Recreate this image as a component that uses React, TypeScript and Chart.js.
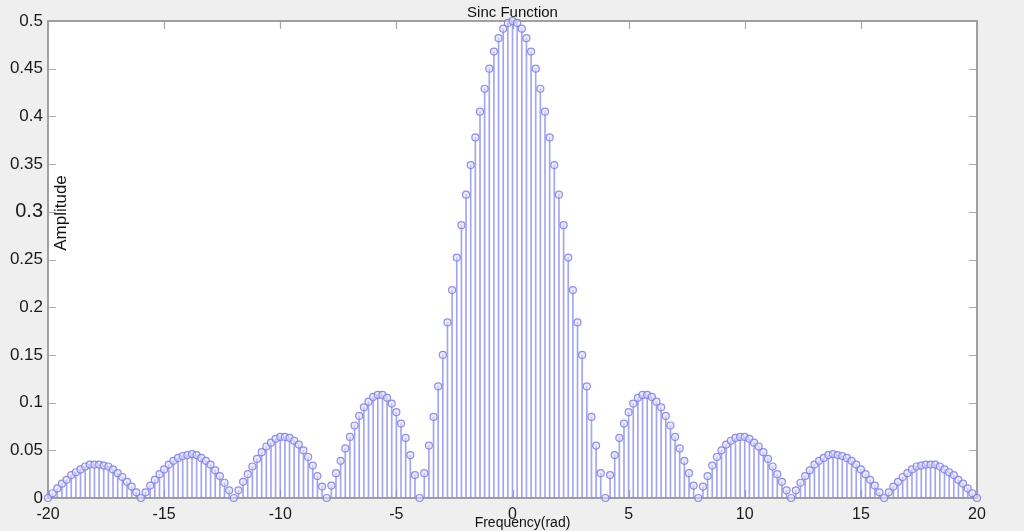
import React, { useEffect, useRef } from "react";
import { Chart, registerables } from "chart.js";

Chart.register(...registerables);

const chartTitle = "Sinc Function";
const xAxisTitle = "Frequency(rad)";
const yAxisTitle = "Amplitude";

const xTickValues = [-20, -15, -10, -5, 0, 5, 10, 15, 20];

const frequency = [
  -20, -19.8, -19.6, -19.4, -19.2, -19, -18.8, -18.6, -18.4, -18.2,
  -18, -17.8, -17.6, -17.4, -17.2, -17, -16.8, -16.6, -16.4, -16.2,
  -16, -15.8, -15.6, -15.4, -15.2, -15, -14.8, -14.6, -14.4, -14.2,
  -14, -13.8, -13.6, -13.4, -13.2, -13, -12.8, -12.6, -12.4, -12.2,
  -12, -11.8, -11.6, -11.4, -11.2, -11, -10.8, -10.6, -10.4, -10.2,
  -10, -9.8, -9.6, -9.4, -9.2, -9, -8.8, -8.6, -8.4, -8.2,
  -8, -7.8, -7.6, -7.4, -7.2, -7, -6.8, -6.6, -6.4, -6.2,
  -6, -5.8, -5.6, -5.4, -5.2, -5, -4.8, -4.6, -4.4, -4.2,
  -4, -3.8, -3.6, -3.4, -3.2, -3, -2.8, -2.6, -2.4, -2.2,
  -2, -1.8, -1.6, -1.4, -1.2, -1, -0.8, -0.6, -0.4, -0.2,
  0,
  0.2, 0.4, 0.6, 0.8, 1, 1.2, 1.4, 1.6, 1.8, 2,
  2.2, 2.4, 2.6, 2.8, 3, 3.2, 3.4, 3.6, 3.8, 4,
  4.2, 4.4, 4.6, 4.8, 5, 5.2, 5.4, 5.6, 5.8, 6,
  6.2, 6.4, 6.6, 6.8, 7, 7.2, 7.4, 7.6, 7.8, 8,
  8.2, 8.4, 8.6, 8.8, 9, 9.2, 9.4, 9.6, 9.8, 10,
  10.2, 10.4, 10.6, 10.8, 11, 11.2, 11.4, 11.6, 11.8, 12,
  12.2, 12.4, 12.6, 12.8, 13, 13.2, 13.4, 13.6, 13.8, 14,
  14.2, 14.4, 14.6, 14.8, 15, 15.2, 15.4, 15.6, 15.8, 16,
  16.2, 16.4, 16.6, 16.8, 17, 17.2, 17.4, 17.6, 17.8, 18,
  18.2, 18.4, 18.6, 18.8, 19, 19.2, 19.4, 19.6, 19.8, 20,
];

const amplitude = [
  0, 0.005, 0.010, 0.015, 0.019, 0.024, 0.027, 0.030, 0.033, 0.035,
  0.035, 0.035, 0.034, 0.033, 0.030, 0.026, 0.022, 0.017, 0.012, 0.006,
  0, 0.006, 0.013, 0.019, 0.025, 0.030, 0.035, 0.039, 0.042, 0.044,
  0.045, 0.046, 0.045, 0.042, 0.039, 0.035, 0.029, 0.023, 0.016, 0.008,
  0, 0.008, 0.017, 0.025, 0.033, 0.041, 0.048, 0.054, 0.058, 0.062,
  0.064, 0.064, 0.063, 0.060, 0.056, 0.050, 0.043, 0.034, 0.023, 0.012,
  0, 0.013, 0.026, 0.039, 0.052, 0.064, 0.076, 0.086, 0.095, 0.101,
  0.106, 0.108, 0.108, 0.105, 0.099, 0.090, 0.078, 0.063, 0.045, 0.024,
  0, 0.026, 0.055, 0.085, 0.117, 0.150, 0.184, 0.218, 0.252, 0.286,
  0.318, 0.349, 0.378, 0.405, 0.429, 0.450, 0.468, 0.482, 0.492, 0.498,
  0.5,
  0.498, 0.492, 0.482, 0.468, 0.450, 0.429, 0.405, 0.378, 0.349, 0.318,
  0.286, 0.252, 0.218, 0.184, 0.150, 0.117, 0.085, 0.055, 0.026, 0,
  0.024, 0.045, 0.063, 0.078, 0.090, 0.099, 0.105, 0.108, 0.108, 0.106,
  0.101, 0.095, 0.086, 0.076, 0.064, 0.052, 0.039, 0.026, 0.013, 0,
  0.012, 0.023, 0.034, 0.043, 0.050, 0.056, 0.060, 0.063, 0.064, 0.064,
  0.062, 0.058, 0.054, 0.048, 0.041, 0.033, 0.025, 0.017, 0.008, 0,
  0.008, 0.016, 0.023, 0.029, 0.035, 0.039, 0.042, 0.045, 0.046, 0.045,
  0.044, 0.042, 0.039, 0.035, 0.030, 0.025, 0.019, 0.013, 0.006, 0,
  0.006, 0.012, 0.017, 0.022, 0.026, 0.030, 0.033, 0.034, 0.035, 0.035,
  0.035, 0.033, 0.030, 0.027, 0.024, 0.019, 0.015, 0.010, 0.005, 0,
];

const FONT = "'Liberation Sans', Arial, Helvetica, sans-serif";

const boxPlugin = {
  id: "matlabBox",
  beforeDraw(chart: any) {
    const { ctx, chartArea: a } = chart;
    ctx.save();
    ctx.fillStyle = "#ffffff";
    ctx.fillRect(a.left, a.top, a.right - a.left, a.bottom - a.top);
    ctx.restore();
  },
  beforeDatasetsDraw(chart: any) {
    const { ctx, chartArea: a, scales } = chart;
    const tl = 8;
    ctx.save();
    ctx.strokeStyle = "#a9a9a9";
    ctx.lineWidth = 1.2;
    ctx.beginPath();
    scales.y.ticks.forEach((t: any) => {
      const py = Math.round(scales.y.getPixelForValue(t.value)) + 0.5;
      ctx.moveTo(a.left, py);
      ctx.lineTo(a.left + tl, py);
      ctx.moveTo(a.right, py);
      ctx.lineTo(a.right - tl, py);
    });
    scales.x.ticks.forEach((t: any) => {
      const px = Math.round(scales.x.getPixelForValue(t.value)) + 0.5;
      ctx.moveTo(px, a.top);
      ctx.lineTo(px, a.top + tl);
      ctx.moveTo(px, a.bottom);
      ctx.lineTo(px, a.bottom - tl);
    });
    ctx.stroke();
    ctx.strokeStyle = "#a0a0a0";
    ctx.lineWidth = 2;
    ctx.strokeRect(a.left, a.top, a.right - a.left, a.bottom - a.top);
    ctx.restore();
  },
  afterDraw(chart: any) {
    const { ctx, chartArea: a } = chart;
    ctx.save();
    ctx.fillStyle = "#111111";
    ctx.textAlign = "center";
    ctx.textBaseline = "middle";
    ctx.font = `15px ${FONT}`;
    ctx.fillText(chartTitle, (a.left + a.right) / 2, 13);
    ctx.font = `14px ${FONT}`;
    ctx.fillText(xAxisTitle, (a.left + a.right) / 2 + 10, a.bottom + 25);
    ctx.translate(a.left + 13, a.top + 192);
    ctx.rotate(-Math.PI / 2);
    ctx.font = `17px ${FONT}`;
    ctx.fillText(yAxisTitle, 0, 0);
    ctx.restore();
  },
};

export default function App() {
  const canvasRef = useRef<HTMLCanvasElement | null>(null);

  useEffect(() => {
    const points = frequency.map((f, i) => ({ x: f, y: amplitude[i] }));
    const chart = new Chart(canvasRef.current as HTMLCanvasElement, {
      type: "scatter",
      data: {
        datasets: [
          {
            type: "scatter",
            label: "markers",
            data: points,
            showLine: false,
            pointRadius: 3.5,
            pointBorderWidth: 1.2,
            pointBorderColor: "rgba(125,125,228,0.85)",
            pointBackgroundColor: "rgba(222,222,252,0.6)",
            clip: false,
            order: 0,
          } as any,
          {
            type: "bar",
            label: "stems",
            data: points,
            barThickness: 1,
            backgroundColor: "rgba(135,135,232,0.75)",
            borderWidth: 0,
            grouped: false,
            order: 1,
          } as any,
        ],
      },
      options: {
        animation: false,
        responsive: false,
        maintainAspectRatio: false,
        events: [],
        layout: { padding: { top: 21, right: 47, left: 0, bottom: 0 } },
        plugins: {
          legend: { display: false },
          title: { display: false },
          tooltip: { enabled: false },
        },
        scales: {
          x: {
            type: "linear",
            min: -20,
            max: 20,
            offset: false,
            grid: { display: false, drawTicks: false },
            border: { display: false },
            afterFit: (s: any) => {
              s.height = 33;
            },
            afterBuildTicks: (s: any) => {
              s.ticks = xTickValues.map((v) => ({ value: v }));
            },
            ticks: {
              padding: 7,
              maxRotation: 0,
              autoSkip: false,
              color: "#1a1a1a",
              font: { family: FONT, size: 16 },
              callback: (v: any) => String(v),
            },
          },
          y: {
            type: "linear",
            min: 0,
            max: 0.5,
            grid: { display: false, drawTicks: false },
            border: { display: false },
            afterFit: (s: any) => {
              s.width = 48;
            },
            ticks: {
              stepSize: 0.05,
              padding: 5,
              color: "#1a1a1a",
              font: (c: any) => ({
                family: FONT,
                size: c.tick && Math.abs(c.tick.value - 0.3) < 1e-6 ? 20 : 17,
              }),
              callback: (v: any) => String(+Number(v).toFixed(2)),
            },
          },
        },
      } as any,
      plugins: [boxPlugin],
    });
    return () => chart.destroy();
  }, []);

  return (
    <div
      style={{
        position: "fixed",
        left: 0,
        top: 0,
        width: 1024,
        height: 531,
        background: "#efefef",
      }}
    >
      <canvas ref={canvasRef} width={1024} height={531} style={{ display: "block" }} />
    </div>
  );
}
